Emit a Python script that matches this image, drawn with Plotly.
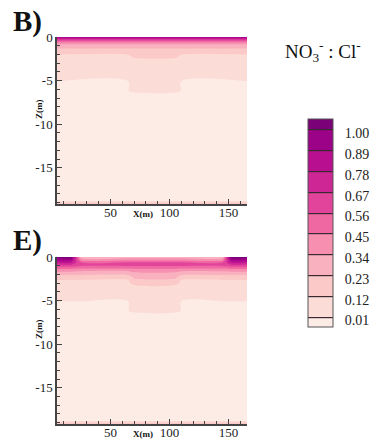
import numpy as np
import plotly.graph_objects as go

# ---------------- data ----------------
levels = [0.01, 0.12, 0.23, 0.34, 0.45, 0.56, 0.67, 0.78, 0.89, 1.00]
level_labels = ["0.01", "0.12", "0.23", "0.34", "0.45", "0.56", "0.67", "0.78", "0.89", "1.00"]
band_colors = ["#fdece6", "#fcdcd7", "#fbc9c8", "#f9b1bf", "#f78fb1", "#f068a2",
               "#e2449c", "#cf2696", "#b80e90", "#9c0288", "#7a0177"]

# Panel B: nodes in x (m) and z (m); concentration columns (one per x node)
xB = [4.7, 65, 70, 105, 110, 165.7]
zB = [0, -0.2, -0.5, -0.9, -1.5, -1.9, -2.1, -2.3, -2.5, -4.9, -5.1, -6.2, -6.4, -18.8, -19.2]
B_side = [0.95, 0.75, 0.50, 0.30, 0.20, 0.13, 0.11, 0.10, 0.10, 0.05, 0.005, 0.005, 0.005, 0.005, 0.25]
B_mid = [0.95, 0.75, 0.50, 0.30, 0.20, 0.17, 0.15, 0.13, 0.11, 0.08, 0.07, 0.05, 0.005, 0.005, 0.25]
B_columns = [B_side, B_side, B_mid, B_mid, B_side, B_side]

# Panel E
xE = [4.7, 17, 25, 65, 70, 105, 110, 145, 152, 165.7]
zE = [0, -0.3, -0.6, -0.9, -1.2, -1.5, -1.8, -2.1, -2.4, -2.7, -3.0, -3.3, -4.9, -5.1, -6.2, -6.4, -18.8, -19.2]
E_corner = [1.05, 0.92, 0.78, 0.65, 0.52, 0.40, 0.30, 0.22, 0.15, 0.11, 0.10, 0.09, 0.05, 0.005, 0.005, 0.005, 0.005, 0.25]
E_side = [0.28, 0.40, 0.56, 0.60, 0.50, 0.38, 0.29, 0.22, 0.15, 0.11, 0.10, 0.09, 0.05, 0.005, 0.005, 0.005, 0.005, 0.25]
E_mid = [0.28, 0.40, 0.56, 0.60, 0.50, 0.40, 0.33, 0.28, 0.24, 0.20, 0.15, 0.11, 0.08, 0.07, 0.05, 0.005, 0.005, 0.25]
E_columns = [E_corner, E_corner, E_side, E_side, E_mid, E_mid, E_side, E_side, E_corner, E_corner]

x_ticks = [50, 100, 150]
z_ticks = [0, -5, -10, -15]
z_tick_labels = ["0", "-5", "-10", "-15"]

# ---------------- figure ----------------
W, H = 378, 442
serif = "Liberation Serif"
n = len(band_colors)
colorscale = [[i / (n - 1), c] for i, c in enumerate(band_colors)]
contours = dict(start=levels[0], end=levels[-1], size=round(levels[1] - levels[0], 2),
                coloring="fill", showlines=False)

fig = go.Figure()
for xs, zs, cols, xa, ya in [(xB, zB, B_columns, "x", "y"), (xE, zE, E_columns, "x2", "y2")]:
    fig.add_trace(go.Contour(
        x=xs, y=zs, z=np.array(cols).T.tolist(),
        autocontour=False, contours=contours, colorscale=colorscale,
        showscale=False, line=dict(width=0), xaxis=xa, yaxis=ya, hoverinfo="skip"))

# dummy trace only to carry the colour bar (drawn off-range on a hidden subplot)
fig.add_trace(go.Contour(
    x=[0, 1], y=[0, 1], z=[[levels[0], levels[-1]], [levels[0], levels[-1]]],
    autocontour=False,
    contours=dict(start=levels[0], end=levels[-1], size=round(levels[1] - levels[0], 2),
                  coloring="fill", showlines=True),
    line=dict(color="#3a2a30", width=1.2),
    colorscale=colorscale, xaxis="x3", yaxis="y3", hoverinfo="skip",
    colorbar=dict(
        xref="container", yref="container",
        x=308 / W, xanchor="left", y=1 - 119 / H, yanchor="top",
        lenmode="pixels", len=208, thicknessmode="pixels", thickness=25,
        xpad=0, ypad=0, outlinecolor="#555555", outlinewidth=1,
        tickmode="array", tickvals=[v - 0.021 for v in levels], ticktext=level_labels,
        ticks="outside", ticklen=9, tickcolor="rgba(0,0,0,0)",
        tickfont=dict(family=serif, size=14, color="#222222"))))

xdom = [57 / W, 247 / W]
ax_common = dict(showgrid=False, zeroline=False, showline=True, linecolor="#444444",
                 linewidth=1.5, ticks="inside", ticklen=5, tickcolor="#444444",
                 tickfont=dict(family=serif, size=13, color="#222222"))
xminor = dict(ticks="inside", dtick=10, ticklen=3, tickcolor="#444444")
yminor = dict(ticks="inside", dtick=1, ticklen=3, tickcolor="#444444")
fig.update_layout(
    width=W, height=H, margin=dict(l=0, r=0, t=0, b=0, autoexpand=False),
    paper_bgcolor="white", plot_bgcolor="white", showlegend=False,
    xaxis=dict(domain=xdom, range=[4.7, 165.7], anchor="y", tickvals=x_ticks,
               ticklabelstandoff=-4, minor=xminor, **ax_common),
    yaxis=dict(domain=[1 - 204 / H, 1 - 37 / H], range=[-19.15, 0], anchor="x",
               tickvals=z_ticks, ticktext=z_tick_labels, minor=yminor, **ax_common),
    xaxis2=dict(domain=xdom, range=[4.7, 165.7], anchor="y2", tickvals=x_ticks,
                ticklabelstandoff=-4, minor=xminor, **ax_common),
    yaxis2=dict(domain=[1 - 424 / H, 1 - 257 / H], range=[-19.15, 0], anchor="x2",
                tickvals=z_ticks, ticktext=z_tick_labels, minor=yminor, **ax_common),
    xaxis3=dict(domain=[0, 0.01], range=[10, 11], visible=False, anchor="y3"),
    yaxis3=dict(domain=[0, 0.01], range=[10, 11], visible=False, anchor="x3"),
)

def note(text, x, y, size, angle=0):
    return dict(text=text, x=x / W, y=1 - y / H, xref="paper", yref="paper",
                xanchor="center", yanchor="middle", showarrow=False, textangle=angle,
                font=dict(family=serif, size=size, color="#111111"))

annotations = []
for label, top in [("B)", 0), ("E)", 220)]:
    annotations.append(note("<b>%s</b>" % label, 27, 21 + top, 29))
    annotations.append(note("<b>X(m)</b>", 143, 214 + top, 9))
    annotations.append(note("<b>Z(m)</b>", 39, 109 + top, 9, -90))
annotations.append(note("NO<sub>3</sub><sup>-</sup> : Cl<sup>-</sup>", 323, 51, 19))
fig.update_layout(annotations=annotations)

fig.write_html("out.html", config={"displayModeBar": False},
               post_script="document.body.style.margin='0';document.body.style.overflow='hidden';")
